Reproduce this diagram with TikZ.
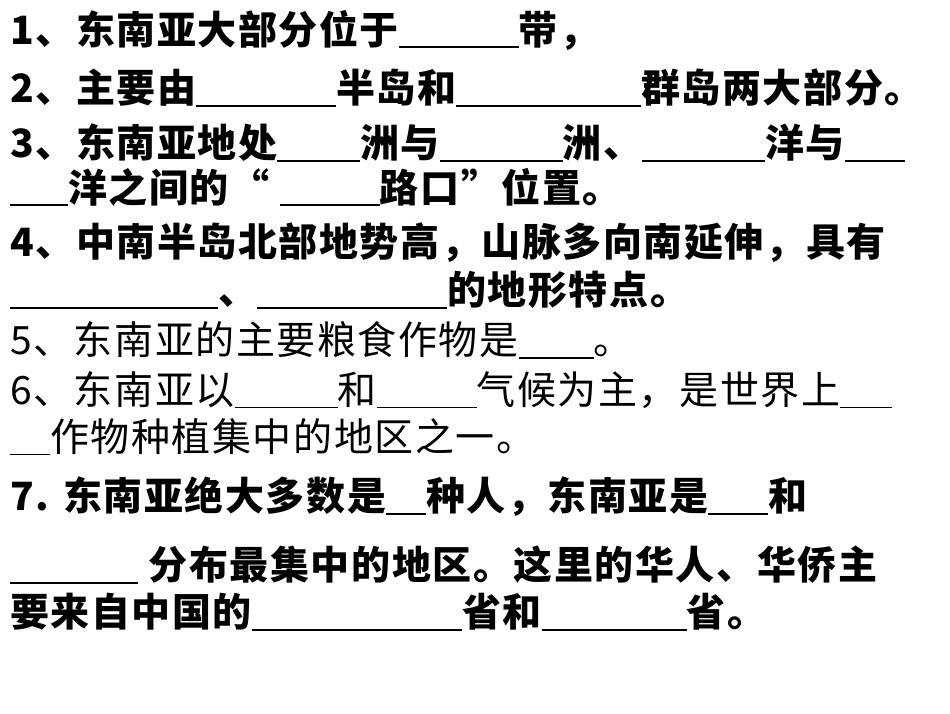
\documentclass[tikz,border=0pt]{standalone}
\usepackage{fontspec}
\setmainfont{Noto Sans CJK SC}[LetterSpace=4]
\newcommand{\bl}[1]{\rule[-4pt]{#1pt}{1.6pt}}
\begin{document}
\begin{tikzpicture}[x=1pt,y=-1pt,ln/.style={anchor=west,inner sep=0pt,font=\fontsize{39pt}{39pt}\selectfont\bfseries},lr/.style={anchor=west,inner sep=0pt,font=\fontsize{39pt}{39pt}\selectfont}]
\useasboundingbox (0,0) rectangle (950,713);
\node[ln] (l1) at (10,30) {1、东南亚大部分位于\bl{120}带，};
\node[ln] (l2) at (10,88) {2、主要由\bl{140}半岛和\bl{185}群岛两大部分。};
\node[ln] (l3) at (10,143) {3、东南亚地处\bl{83}洲与\bl{123}洲、\bl{123}洋与\bl{60}};
\node[ln] (l3b) at (10,187) {\bl{58}洋之间的“ \bl{100}路口”位置。};
\node[ln] (l4) at (10,243) {4、中南半岛北部地势高，山脉多向南延伸，具有};
\node[ln] (l4b) at (10,290) {\bl{208}、\bl{190}的地形特点。};
\node[lr] (l5) at (10,340) {5、东南亚的主要粮食作物是\bl{75}。};
\node[lr] (l6) at (10,390) {6、东南亚以\bl{103}和\bl{100}气候为主，是世界上\bl{52}};
\node[lr] (l6b) at (10,437) {\bl{40}作物种植集中的地区之一。};
\node[ln] (l7) at (10,497) {7. 东南亚绝大多数是\bl{40}种人，东南亚是\bl{60}和};
\node[ln] (l7b) at (10,565) {\bl{128} 分布最集中的地区。这里的华人、华侨主};
\node[ln] (l7c) at (10,612) {要来自中国的\bl{210}省和\bl{145}省。};
\end{tikzpicture}
\end{document}
